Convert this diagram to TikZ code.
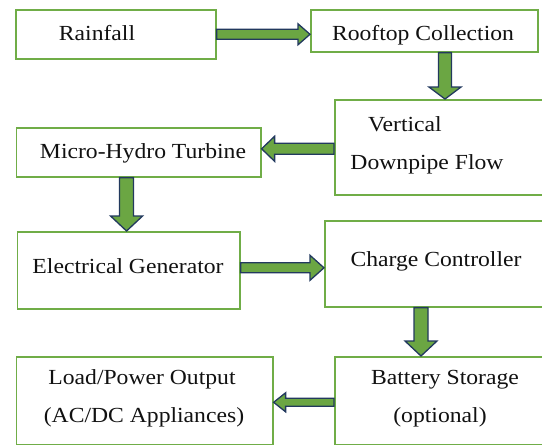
\documentclass[tikz,border=0pt]{standalone}
\usepackage{fontspec}
\setmainfont{Liberation Serif}[FakeStretch=1.1]
\usetikzlibrary{calc}
\definecolor{boxgreen}{HTML}{70AD47}
\definecolor{arrowfill}{HTML}{6BA643}
\definecolor{arrownavy}{HTML}{22395E}
\definecolor{txt}{HTML}{111111}
\tikzset{
  box/.style={draw=boxgreen, line width=1.6pt, fill=white, rectangle, inner sep=0pt, anchor=north west},
  lbl/.style={inner sep=0pt, anchor=base, text=txt, font=\fontsize{21.5}{25}\selectfont},
  blockarrow/.style={draw=arrownavy, fill=arrowfill, line width=1.3pt, line join=miter}
}
% horizontal block arrow: #1 start, #2 tip (gives y), #3 shaft half, #4 head half, #5 signed head length
\newcommand\harrowblk[5]{%
  \filldraw[blockarrow] let \p1=#1, \p2=#2 in
    (\x1,\y2+#3) -- (\x2-#5,\y2+#3) -- (\x2-#5,\y2+#4) -- (\x2,\y2) --
    (\x2-#5,\y2-#4) -- (\x2-#5,\y2-#3) -- (\x1,\y2-#3) -- cycle;}
% vertical (downward) block arrow: #1 start (gives x), #2 tip
\newcommand\varrowblk[5]{%
  \filldraw[blockarrow] let \p1=#1, \p2=#2 in
    (\x1-#3,\y1) -- (\x1-#3,\y2+#5) -- (\x1-#4,\y2+#5) -- (\x1,\y2) --
    (\x1+#4,\y2+#5) -- (\x1+#3,\y2+#5) -- (\x1+#3,\y1) -- cycle;}
\begin{document}
\begin{tikzpicture}[x=1pt,y=-1pt]
\useasboundingbox (0,0) rectangle (542,445);
\clip (0,0) rectangle (542,445);
\fill[white] (0,0) rectangle (542,445);
% boxes
\node[box, minimum width=200pt, minimum height=49pt] (rain) at (15,9) {};
\node[box, minimum width=227pt, minimum height=42pt] (roof) at (310,9) {};
\node[box, minimum width=226pt, minimum height=95pt] (vert) at (334,99) {};
\node[box, minimum width=244.5pt, minimum height=49pt] (micro) at (15.5,127) {};
\node[box, minimum width=222.5pt, minimum height=77pt] (eg) at (16.5,231) {};
\node[box, minimum width=236pt, minimum height=86pt] (cc) at (324,220) {};
\node[box, minimum width=226pt, minimum height=88pt] (batt) at (334,356) {};
\node[box, minimum width=256.5pt, minimum height=88pt] (load) at (15.5,356) {};
% labels
\node[lbl] (t1) at (97,40) {Rainfall};
\node[lbl] (t2) at (423,40) {Rooftop Collection};
\node[lbl] (t3) at (405,131) {Vertical};
\node[lbl] (t4) at (427,169) {Downpipe Flow};
\node[lbl] (t5) at (143,158) {Micro-Hydro Turbine};
\node[lbl] (t6) at (128,273) {Electrical Generator};
\node[lbl] (t7) at (436,266) {Charge Controller};
\node[lbl] (t8) at (142,384) {Load/Power Output};
\node[lbl] (t9) at (144,422) {(AC/DC Appliances)};
\node[lbl] (t10) at (445,384) {Battery Storage};
\node[lbl] (t11) at (440,422) {(optional)};
% arrows
\harrowblk{(rain.east)}{(roof.west |- rain.east)}{5pt}{10.5pt}{12pt}
\varrowblk{($(roof.south west)+(135pt,0)$)}{(vert.north)}{6.5pt}{16pt}{12pt}
\harrowblk{(vert.west)}{($(micro.east)+(0,3.5pt)$)}{5.5pt}{12.5pt}{-13pt}
\varrowblk{($(micro.south)+(-12pt,0)$)}{(eg.north)}{7pt}{16pt}{15pt}
\harrowblk{(eg.east)}{($(eg.east -| cc.west)+(0,2.5pt)$)}{5pt}{12.5pt}{14pt}
\varrowblk{($(cc.south west)+(97pt,0)$)}{(batt.north)}{7pt}{16pt}{15pt}
\harrowblk{(batt.west)}{($(load.east)+(0,-1.5pt)$)}{4pt}{9.5pt}{-12pt}
\end{tikzpicture}
\end{document}
